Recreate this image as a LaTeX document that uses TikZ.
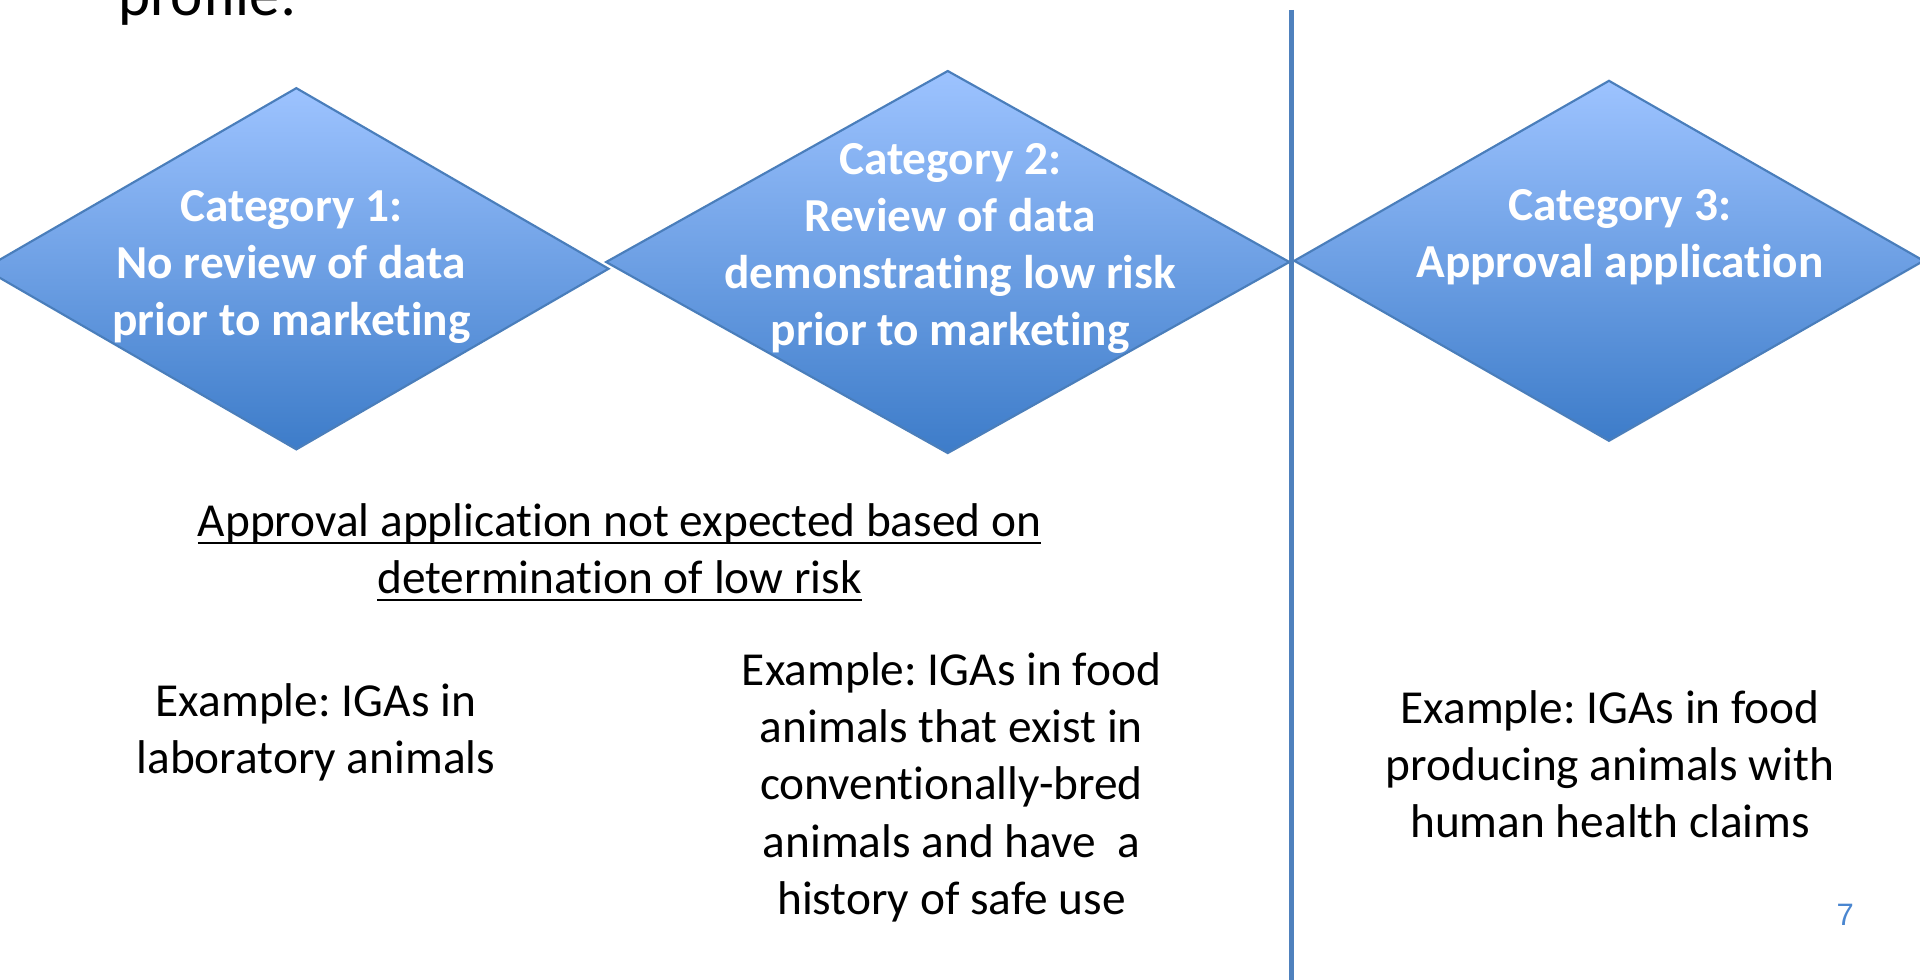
\documentclass[tikz,border=0pt]{standalone}
\usepackage{fontspec}
\setmainfont{Carlito}[Ligatures=NoCommon]
\newfontfamily\numfont{Liberation Sans}
\usetikzlibrary{shapes.geometric}
\frenchspacing

\definecolor{catTop}{HTML}{9DC3FF}
\definecolor{catBot}{HTML}{3D7CC9}
\definecolor{catEdge}{HTML}{4A7EBB}
\definecolor{divBlue}{HTML}{4F81BD}
\definecolor{numBlue}{HTML}{4A86D0}

% rule just under the baseline, crossing the descenders
\newcommand\undr[1]{\setbox0\hbox{#1}\rlap{\rule[-1.7pt]{\wd0}{0.5pt}}\box0}

\tikzset{
	catbox/.style 2 args={diamond, draw=catEdge, line width=0.5pt,
		top color=catTop, bottom color=catBot,
		minimum width=#1, minimum height=#2, inner sep=0pt, outer sep=0pt},
	cattext/.style={text=white, align=center,
		font=\bfseries\fontsize{11}{13.3}\selectfont},
	bodytext/.style={align=center, font=\fontsize{11}{13.3}\selectfont},
	divider/.style={divBlue, line width=1.1pt}
}

\begin{document}
\begin{tikzpicture}[x=0.1mm,y=-0.1mm]
	%	\draw[help lines] (0,0) grid[step=100] (1568,800);
	\useasboundingbox (0,0) rectangle (1568,800);
	\clip (0,0) rectangle (1568,800);

	% heading line, only its last letters still on the page
	\node[anchor=base west, font=\fontsize{14.2}{17}\selectfont, inner sep=0pt] (head) at (96,12.5) {profile:};

	% the three categories
	\node[catbox={51mm}{29.5mm}] (c1) at (242,219.5) {};
	\node[catbox={55.8mm}{31.2mm}] (c2) at (774,214) {};
	\node[catbox={51.4mm}{29.4mm}] (c3) at (1314,213) {};

	\node[cattext] (t1) at (238,218) {Category 1:\\No review of data\\prior to marketing};
	\node[cattext] (t2) at (776,203) {Category 2:\\Review of data\\demonstrating low risk\\prior to marketing};
	\node[cattext] (t3) at (1323,194) {Category 3:\\Approval application};

	% divider between categories 1--2 and 3
	\coordinate (divtop) at (1055,8);
	\coordinate (divbot) at (1055,800);
	\draw[divider] (divtop) -- (divbot);

	\node[bodytext] (note) at (506,451) {\undr{Approval application not expected based on}\\\undr{determination of low risk}};

	\node[bodytext] (ex1) at (258,598) {Example: IGAs in\\laboratory animals};
	\node[bodytext] (ex2) at (777,643) {Example: IGAs in food\\animals that exist in\\conventionally-bred\\animals and have\ \ a\\history of safe use};
	\node[bodytext] (ex3) at (1315,624) {Example: IGAs in food\\producing animals with\\human health claims};

	\node[text=numBlue, font=\numfont\fontsize{7.2}{8}\selectfont] (page) at (1507,747) {7};
\end{tikzpicture}
\end{document}
